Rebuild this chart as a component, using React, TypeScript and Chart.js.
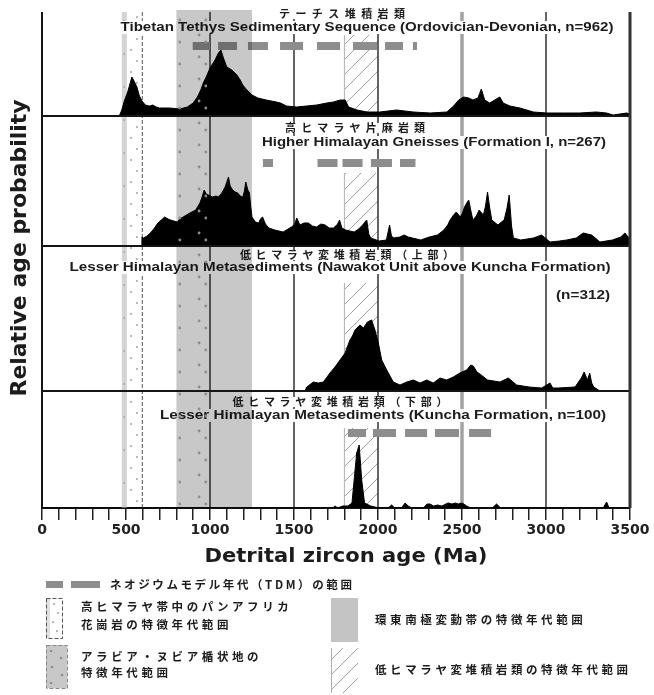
import React, { useEffect, useRef } from "react";
import { Chart, registerables } from "chart.js";
Chart.register(...registerables);

// ---------------- DATA ----------------
const xTickLabels = ["0", "500", "1000", "1500", "2000", "2500", "3000", "3500"];
const refLineAges = [1000, 1500, 2000, 3000];
const greyLineAge = 2500;

const panAfricanBand = [475, 597];
const panAfricanCore = [475, 505];
const arabianBand = [800, 1000];
const ceamBand = [800, 1250];
const lesserBand = [1800, 2000];

// Tibetan Tethys (n=962)
const p1Ages = [0, 460, 475, 490, 510, 525, 535, 545, 565, 580, 595, 615, 640, 660, 680, 700, 760, 820, 865, 900, 925, 945, 960, 980, 1000, 1030, 1050, 1065, 1080, 1100, 1130, 1160, 1180, 1195, 1220, 1250, 1285, 1335, 1395, 1420, 1455, 1515, 1575, 1635, 1695, 1735, 1775, 1805, 1825, 1875, 1935, 2010, 2110, 2210, 2310, 2410, 2450, 2480, 2510, 2540, 2565, 2595, 2615, 2635, 2665, 2695, 2725, 2745, 2785, 2845, 2925, 3005, 3105, 3200, 3300, 3360, 3400, 3480, 3500];
const p1Vals = [0, 0, 6, 15, 24, 33, 39, 36, 29, 20, 15, 11, 10, 11, 9, 8, 8, 7, 9, 13, 19, 26, 33, 40, 48, 56, 63, 66, 58, 49, 46, 41, 36, 31, 26, 21, 18, 16, 14, 13, 10, 9, 10, 11, 13, 14, 16, 16, 9, 6, 4, 4, 6, 4, 3, 4, 10, 16, 19, 18, 16, 18, 27, 16, 13, 16, 19, 13, 10, 8, 4, 3, 3, 3, 4, 3, 1, 3, 2];

// Higher Himalayan Gneisses (n=267)
const p2Ages = [0, 590, 595, 605, 625, 645, 665, 690, 710, 730, 750, 765, 785, 805, 820, 840, 860, 880, 915, 940, 955, 965, 978, 990, 1015, 1035, 1050, 1070, 1090, 1110, 1120, 1135, 1150, 1165, 1180, 1195, 1205, 1213, 1225, 1235, 1242, 1250, 1270, 1290, 1300, 1313, 1330, 1350, 1385, 1435, 1485, 1505, 1516, 1535, 1560, 1585, 1610, 1635, 1660, 1685, 1710, 1735, 1760, 1771, 1785, 1808, 1858, 1885, 1908, 1933, 1945, 1957, 2007, 2050, 2069, 2080, 2094, 2130, 2156, 2180, 2205, 2255, 2305, 2354, 2392, 2415, 2429, 2450, 2466, 2490, 2503, 2515, 2528, 2540, 2553, 2565, 2585, 2602, 2627, 2640, 2652, 2665, 2677, 2714, 2735, 2751, 2768, 2781, 2795, 2806, 2850, 2925, 2974, 3024, 3080, 3123, 3180, 3222, 3272, 3321, 3396, 3445, 3470, 3494, 3500];
const p2Vals = [0, 0, 9, 8, 10, 13, 17, 23, 26, 29, 27, 26, 25, 24, 27, 29, 31, 33, 36, 43, 50, 56, 52, 51, 49, 50, 49, 53, 59, 69, 60, 56, 54, 53, 50, 49, 55, 64, 56, 53, 40, 29, 24, 23, 27, 29, 22, 18, 16, 14, 19, 22, 28, 21, 23, 23, 20, 19, 22, 21, 18, 18, 22, 26, 18, 16, 14, 17, 21, 26, 12, 8, 5, 6, 21, 10, 8, 9, 11, 9, 8, 6, 9, 11, 16, 21, 26, 31, 34, 29, 33, 39, 43, 46, 35, 26, 30, 36, 31, 40, 54, 38, 26, 21, 24, 26, 38, 51, 20, 8, 6, 8, 11, 4, 5, 6, 8, 13, 11, 4, 6, 9, 13, 8, 6];

// Lesser Himalayan, Nawakot Unit (n=312)
const p3Ages = [0, 1565, 1576, 1615, 1645, 1675, 1714, 1744, 1774, 1804, 1833, 1848, 1863, 1893, 1913, 1937, 1962, 1982, 2002, 2022, 2052, 2091, 2131, 2171, 2210, 2250, 2290, 2329, 2369, 2409, 2448, 2488, 2528, 2552, 2567, 2589, 2607, 2652, 2726, 2776, 2825, 2900, 2974, 3024, 3040, 3073, 3173, 3210, 3227, 3247, 3260, 3272, 3284, 3321, 3500];
const p3Vals = [0, 0, 4, 9, 8, 9, 18, 24, 31, 38, 51, 55, 61, 66, 63, 69, 71, 61, 48, 31, 21, 9, 6, 9, 11, 8, 11, 8, 13, 11, 14, 18, 21, 26, 25, 19, 17, 11, 9, 13, 6, 4, 3, 8, 3, 3, 4, 13, 19, 11, 18, 8, 4, 0, 0];

// Lesser Himalayan, Kuncha Formation (n=100)
const p4Ages = [0, 1730, 1745, 1760, 1790, 1821, 1845, 1858, 1873, 1888, 1903, 1920, 1957, 2006, 2060, 2081, 2100, 2140, 2161, 2180, 2200, 2270, 2292, 2310, 2330, 2354, 2380, 2417, 2440, 2460, 2478, 2500, 2528, 2550, 2680, 2706, 2730, 3340, 3361, 3375, 3500];
const p4Vals = [0, 0, 2, 0, 2, 2, 5, 28, 55, 63, 28, 5, 2, 0, 0, 3, 0, 0, 5, 2, 0, 0, 4, 4, 2, 3, 2, 5, 4, 5, 4, 5, 2, 0, 0, 4, 0, 0, 6, 0, 0];

// Nd model age (TDM) ranges, Ma
const nd1 = [[897, 1000], [1048, 1161], [1226, 1345], [1417, 1554], [1637, 1774], [1851, 1994], [2042, 2149], [2208, 2232]];
const nd2 = [[1315, 1375], [1640, 1759], [1789, 1908], [1958, 2083], [2131, 2223]];
const nd4 = [[1821, 1929], [1970, 2107], [2161, 2292], [2339, 2482], [2542, 2673]];

const titlesJa = ["テーチス堆積岩類", "高ヒマラヤ片麻岩類", "低ヒマラヤ変堆積岩類（上部）", "低ヒマラヤ変堆積岩類（下部）"];
const titlesEn = [
  "Tibetan Tethys Sedimentary Sequence (Ordovician-Devonian, n=962)",
  "Higher Himalayan Gneisses (Formation I, n=267)",
  "Lesser Himalayan Metasediments (Nawakot Unit above Kuncha Formation)",
  "Lesser Himalayan Metasediments (Kuncha Formation, n=100)",
];
const extraLabel = "(n=312)";
const xTitle = "Detrital zircon age (Ma)";
const yTitle = "Relative age probability";
const legendLabels = [
  "ネオジウムモデル年代（TDM）の範囲",
  "高ヒマラヤ帯中のパンアフリカ",
  "花崗岩の特徴年代範囲",
  "アラビア・ヌビア楯状地の",
  "特徴年代範囲",
  "環東南極変動帯の特徴年代範囲",
  "低ヒマラヤ変堆積岩類の特徴年代範囲",
];

// ---------------- LAYOUT ----------------
const W = 654, H = 695;
const panelHeights = [104, 130, 145, 117];
const ndLevels = [70, 83, 0, 75];
const hatchTops = [23, 57, 37, 37];
const jaPos = [[342, 14, 126], [355, 128, 140], [347, 255, 214], [340, 402, 215]];
const enPos = [[367, 27, 493], [434, 142, 344], [340, 267, 541], [383, 415, 446]];
const extraPos = [610, 295, 54];

const FONT_EN = 'bold 13px "Liberation Sans", Arial, sans-serif';
const FONT_JA = 'bold 11px "Noto Sans CJK JP", sans-serif';
const FONT_LEG = 'bold 11.5px "Noto Sans CJK JP", sans-serif';
const TXT = "#1c1c1c";

function drawFit(ctx, text, cx, cy, tw, font) {
  ctx.font = font;
  const w0 = ctx.measureText(text).width;
  ctx.save();
  ctx.translate(cx, cy);
  ctx.scale(tw / w0, 1);
  ctx.textAlign = "center";
  ctx.textBaseline = "middle";
  ctx.fillText(text, 0, 0);
  ctx.restore();
}

function drawSpaced(ctx, text, x, y, ls, font) {
  ctx.font = font;
  ctx.textAlign = "left";
  ctx.textBaseline = "middle";
  let cx = x;
  for (const ch of Array.from(text)) {
    ctx.fillText(ch, cx, y);
    cx += ctx.measureText(ch).width + ls;
  }
}

function spacedForWidth(ctx, text, tw, font) {
  ctx.font = font;
  const chars = Array.from(text);
  const sum = chars.reduce((s, c) => s + ctx.measureText(c).width, 0);
  return (tw - sum) / (chars.length - 1);
}

function hatch(ctx, l, t, w, h, gap, color) {
  ctx.save();
  ctx.beginPath();
  ctx.rect(l, t, w, h);
  ctx.clip();
  ctx.strokeStyle = color;
  ctx.lineWidth = 1;
  ctx.beginPath();
  for (let k = 0; k < h + w + gap; k += gap) {
    ctx.moveTo(l, t + h - k + w);
    ctx.lineTo(l + w, t + h - k);
  }
  ctx.stroke();
  ctx.restore();
}

function dot(ctx, x, y, r) {
  ctx.beginPath();
  ctx.arc(x, y, r, 0, Math.PI * 2);
  ctx.fill();
}

function panelBox(chart, i) {
  const s = chart.scales["y" + i];
  return { top: s.getPixelForValue(panelHeights[i]), base: s.getPixelForValue(0) };
}

const decor = {
  id: "decor",
  beforeDatasetsDraw(chart) {
    const { ctx, chartArea: a, scales } = chart;
    const px = (v) => scales.x.getPixelForValue(v);
    ctx.save();
    // Pan-African band
    ctx.fillStyle = "#d4d4d4";
    ctx.fillRect(px(panAfricanCore[0]), a.top, px(panAfricanCore[1]) - px(panAfricanCore[0]), a.bottom - a.top);
    ctx.fillStyle = "#a4a4a4";
    let k = 0;
    for (let y = a.top + 5; y < a.bottom; y += 11, k++) {
      dot(ctx, k % 2 ? px(530) : px(565), y, 1);
      if (k % 3 === 0) dot(ctx, px(488), y + 4, 0.9);
    }
    ctx.strokeStyle = "#555";
    ctx.lineWidth = 1;
    ctx.setLineDash([4, 2]);
    ctx.beginPath();
    ctx.moveTo(px(panAfricanBand[1]), a.top);
    ctx.lineTo(px(panAfricanBand[1]), a.bottom);
    ctx.stroke();
    ctx.setLineDash([]);
    // hatched band per panel
    const hl = px(lesserBand[0]), hr = px(lesserBand[1]);
    panelHeights.forEach((h, i) => {
      const { top, base } = panelBox(chart, i);
      const t = top + hatchTops[i];
      hatch(ctx, hl, t, hr - hl, base - t, 15, "#a0a0a0");
      ctx.strokeStyle = "#b0b0b0";
      ctx.lineWidth = 1;
      ctx.beginPath();
      ctx.moveTo(hl, t);
      ctx.lineTo(hl, base);
      ctx.stroke();
    });
    // reference lines
    ctx.strokeStyle = "#111";
    ctx.lineWidth = 1.3;
    refLineAges.forEach((v) => {
      ctx.beginPath();
      ctx.moveTo(px(v), a.top);
      ctx.lineTo(px(v), a.bottom);
      ctx.stroke();
    });
    ctx.strokeStyle = "#a2a2a2";
    ctx.lineWidth = 3.5;
    ctx.beginPath();
    ctx.moveTo(px(greyLineAge), a.top);
    ctx.lineTo(px(greyLineAge), a.bottom);
    ctx.stroke();
    ctx.restore();
  },
  afterDatasetsDraw(chart) {
    const { ctx, chartArea: a, scales } = chart;
    const px = (v) => scales.x.getPixelForValue(v);
    ctx.save();
    // titles with white backing
    titlesJa.forEach((t, i) => {
      const [cx, cy, tw] = jaPos[i];
      ctx.fillStyle = "#fff";
      ctx.fillRect(cx - tw / 2 - 2, cy - 5, tw + 4, 10);
      ctx.fillStyle = TXT;
      const ls = spacedForWidth(ctx, t, tw, FONT_JA);
      drawSpaced(ctx, t, cx - tw / 2, cy, ls, FONT_JA);
    });
    titlesEn.forEach((t, i) => {
      const [cx, cy, tw] = enPos[i];
      ctx.fillStyle = "#fff";
      ctx.fillRect(cx - tw / 2 - 2, cy - 6, tw + 4, 13);
      ctx.fillStyle = TXT;
      drawFit(ctx, t, cx, cy, tw, FONT_EN);
    });
    {
      const [rx, cy, tw] = extraPos;
      ctx.fillStyle = "#fff";
      ctx.fillRect(rx - tw - 2, cy - 6, tw + 4, 13);
      ctx.fillStyle = TXT;
      drawFit(ctx, extraLabel, rx - tw / 2, cy, tw, FONT_EN);
    }
    // grey band (multiply)
    ctx.globalCompositeOperation = "multiply";
    ctx.fillStyle = "#c8c8c8";
    ctx.fillRect(px(ceamBand[0]), a.top - 2, px(ceamBand[1]) - px(ceamBand[0]), a.bottom - a.top + 2);
    ctx.globalCompositeOperation = "source-over";
    ctx.fillStyle = "#8e8e8e";
    let k = 0;
    for (let y = a.top + 8; y < a.bottom; y += 11, k++) {
      const cols = k % 2 ? [850, 935] : [820, 895, 975];
      cols.forEach((c, j) => {
        if ((k + j) % 2 === 0 && c < arabianBand[1]) dot(ctx, px(c), y + (j % 2) * 4, 1.4);
      });
    }
    // panel separators
    ctx.strokeStyle = "#151515";
    ctx.lineWidth = 2;
    for (let i = 0; i < panelHeights.length - 1; i++) {
      const { base } = panelBox(chart, i);
      ctx.beginPath();
      ctx.moveTo(a.left, base);
      ctx.lineTo(a.right, base);
      ctx.stroke();
    }
    // frame
    ctx.beginPath();
    ctx.moveTo(a.left, a.top);
    ctx.lineTo(a.left, a.bottom);
    ctx.stroke();
    ctx.lineWidth = 3;
    ctx.strokeStyle = "#333";
    ctx.beginPath();
    ctx.moveTo(a.right, a.top);
    ctx.lineTo(a.right, a.bottom);
    ctx.stroke();
    ctx.restore();
  },
  afterDraw(chart) {
    const { ctx } = chart;
    ctx.save();
    ctx.fillStyle = TXT;
    drawFit(ctx, xTitle, 346, 557, 283, 'bold 20px "DejaVu Sans", sans-serif');
    ctx.save();
    ctx.translate(21, 248);
    ctx.rotate(-Math.PI / 2);
    drawFit(ctx, yTitle, 0, 0, 297, 'bold 21px "DejaVu Sans", sans-serif');
    ctx.restore();

    // legend
    const LS = 3.6;
    ctx.fillStyle = "#8d8d8d";
    ctx.fillRect(46, 581, 17, 7);
    ctx.fillRect(71, 581, 29, 7);
    ctx.fillStyle = TXT;
    drawSpaced(ctx, legendLabels[0], 110, 585, 2.6, FONT_LEG);

    // box 1: Pan-African
    ctx.fillStyle = "#fff";
    ctx.fillRect(46, 598, 16, 40);
    ctx.fillStyle = "#e0e0e0";
    ctx.fillRect(46, 598, 4, 40);
    ctx.fillStyle = "#a0a0a0";
    [[54, 604], [58, 613], [53, 622], [57, 631]].forEach(([x, y]) => dot(ctx, x, y, 1));
    ctx.strokeStyle = "#555";
    ctx.lineWidth = 1;
    ctx.setLineDash([4, 2]);
    ctx.strokeRect(46.5, 598.5, 16, 40);
    ctx.setLineDash([]);
    ctx.fillStyle = TXT;
    drawSpaced(ctx, legendLabels[1], 81, 607, LS, FONT_LEG);
    drawSpaced(ctx, legendLabels[2], 81, 625, LS, FONT_LEG);

    // box 2: Arabian-Nubian
    ctx.fillStyle = "#c8c8c8";
    ctx.fillRect(46, 645, 21, 43);
    ctx.fillStyle = "#8e8e8e";
    [[51, 651], [61, 658], [52, 667], [62, 675], [51, 683]].forEach(([x, y]) => dot(ctx, x, y, 1.3));
    ctx.strokeStyle = "#888";
    ctx.setLineDash([4, 2]);
    ctx.strokeRect(46.5, 645.5, 21, 43);
    ctx.setLineDash([]);
    ctx.fillStyle = TXT;
    drawSpaced(ctx, legendLabels[3], 81, 657, LS, FONT_LEG);
    drawSpaced(ctx, legendLabels[4], 81, 673, LS, FONT_LEG);

    // right gray box
    ctx.fillStyle = "#c4c4c4";
    ctx.fillRect(331, 598, 27, 44);
    ctx.fillStyle = TXT;
    drawSpaced(ctx, legendLabels[5], 375, 620, LS, FONT_LEG);

    // hatched box
    hatch(ctx, 331, 648, 27, 45, 15, "#a0a0a0");
    ctx.strokeStyle = "#b0b0b0";
    ctx.beginPath();
    ctx.moveTo(331.5, 648);
    ctx.lineTo(331.5, 693);
    ctx.stroke();
    ctx.fillStyle = TXT;
    drawSpaced(ctx, legendLabels[6], 375, 670, LS, FONT_LEG);
    ctx.restore();
  },
};

export default function App() {
  const ref = useRef(null);
  useEffect(() => {
    const total = panelHeights.reduce((s, v) => s + v, 0);
    const yScales = {};
    let above = 0;
    panelHeights.forEach((h, i) => {
      const below = total - above - h;
      yScales["y" + i] = { type: "linear", display: false, min: -below, max: h + above };
      above += h;
    });
    const series = [[p1Ages, p1Vals], [p2Ages, p2Vals], [p3Ages, p3Vals], [p4Ages, p4Vals]];
    const datasets = series.map(([ages, vals], i) => ({
      type: "line",
      label: titlesEn[i],
      data: ages.map((x, k) => ({ x, y: vals[k] })),
      yAxisID: "y" + i,
      borderColor: "#000",
      backgroundColor: "#000",
      borderWidth: 1,
      fill: "origin",
      pointRadius: 0,
      tension: 0,
      order: 2,
    }));
    [nd1, nd2, null, nd4].forEach((segs, i) => {
      if (!segs) return;
      datasets.push({
        type: "line",
        label: "TDM " + (i + 1),
        data: segs.flatMap(([s, e]) => [{ x: s, y: ndLevels[i] }, { x: e, y: ndLevels[i] }, { x: e, y: null }]),
        yAxisID: "y" + i,
        borderColor: "#8d8d8d",
        borderWidth: 8,
        borderCapStyle: "butt",
        fill: false,
        pointRadius: 0,
        spanGaps: false,
        order: 1,
      });
    });
    const chart = new Chart(ref.current, {
      type: "line",
      data: { datasets },
      options: {
        responsive: false,
        animation: false,
        events: [],
        layout: { padding: { left: 42, right: 24, top: 12, bottom: 0 } },
        plugins: { legend: { display: false }, tooltip: { enabled: false } },
        scales: {
          x: {
            type: "linear",
            min: 0,
            max: 3500,
            afterFit: (s) => {
              s.height = 187;
            },
            ticks: {
              stepSize: 100,
              autoSkip: false,
              maxRotation: 0,
              callback: (v) => (xTickLabels.includes(String(v)) ? String(v) : ""),
              font: { family: "DejaVu Sans", weight: "bold", size: 14 },
              color: "#222",
              padding: 2,
            },
            grid: { drawOnChartArea: false, tickLength: 12, color: "#222", lineWidth: 1.5 },
            border: { color: "#111", width: 2 },
          },
          ...yScales,
        },
      },
      plugins: [decor],
    });
    return () => chart.destroy();
  }, []);
  return (
    <div style={{ position: "absolute", left: 0, top: 0, width: W, height: H, background: "#fff" }}>
      <canvas ref={ref} width={W} height={H} style={{ display: "block" }} />
    </div>
  );
}
